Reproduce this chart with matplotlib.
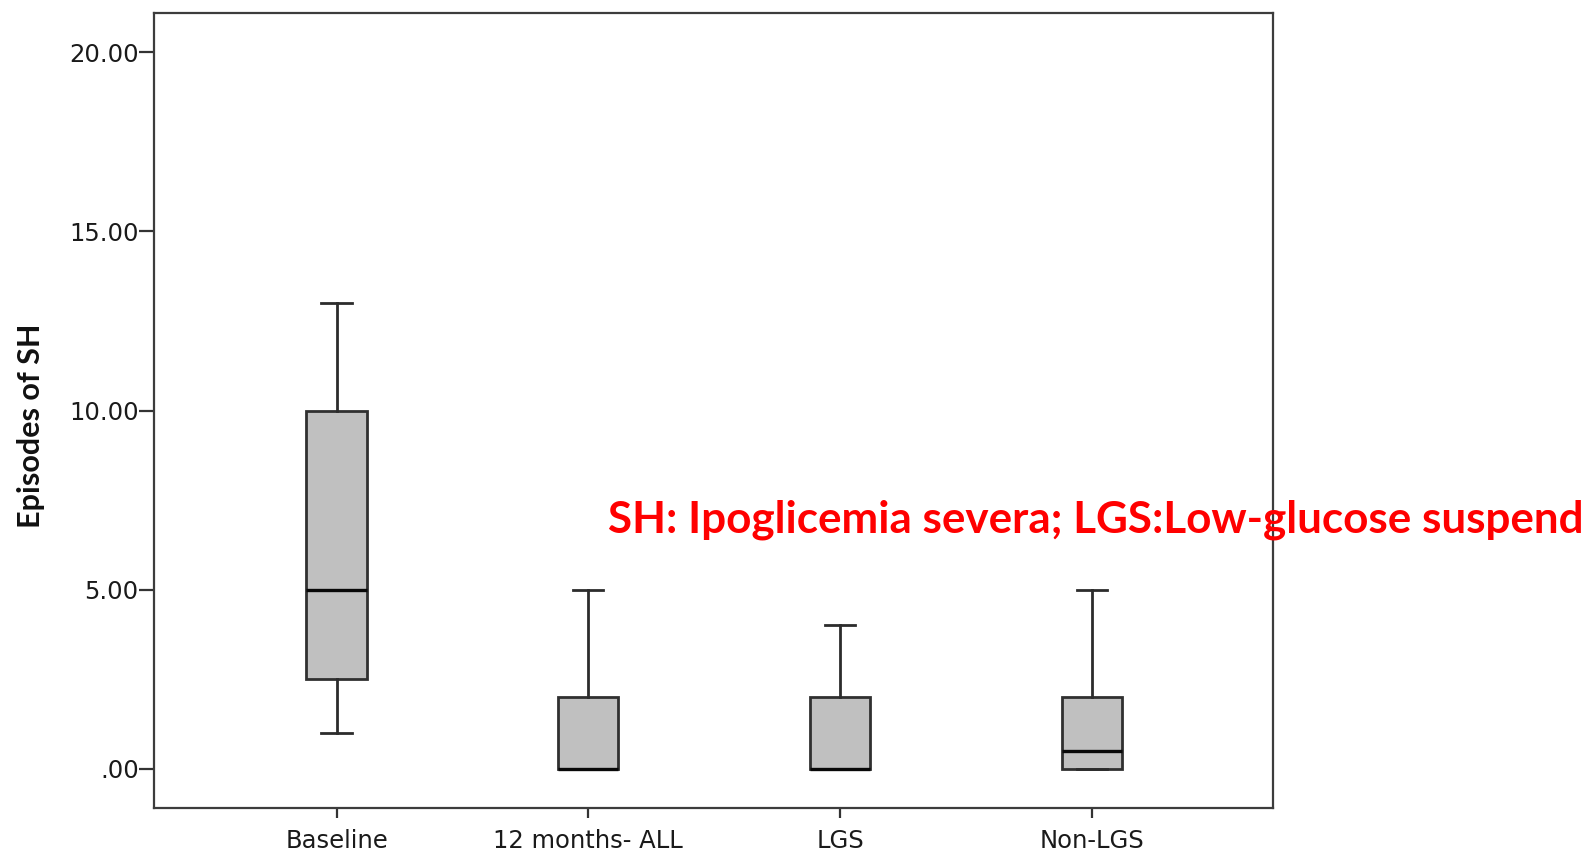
import matplotlib
matplotlib.use("Agg")
import matplotlib.pyplot as plt

# Summary statistics of SH episodes per group
groups = ["Baseline", "12 months- ALL", "LGS", "Non-LGS"]
whisker_low = [1.0, 0.0, 0.0, 0.0]
q1 = [2.5, 0.0, 0.0, 0.0]
median = [5.0, 0.0, 0.0, 0.5]
q3 = [10.0, 2.0, 2.0, 2.0]
whisker_high = [13.0, 5.0, 4.0, 5.0]

y_ticks = [0, 5, 10, 15, 20]
y_tick_labels = [".00", "5.00", "10.00", "15.00", "20.00"]

LABEL_FONT = ["Lato", "DejaVu Sans"]

W, H, DPI = 1589, 851, 100
fig = plt.figure(figsize=(W / DPI, H / DPI), dpi=DPI, facecolor="white")
ax = fig.add_axes([154 / W, 1 - 808 / H, (1273 - 154) / W, (808 - 13) / H])

stats = [
    dict(label=g, whislo=lo, q1=a, med=m, q3=b, whishi=hi, fliers=[])
    for g, lo, a, m, b, hi in zip(groups, whisker_low, q1, median, q3, whisker_high)
]
positions = list(range(len(groups)))
ax.bxp(
    stats,
    positions=positions,
    widths=0.24,
    capwidths=0.12,
    patch_artist=True,
    showfliers=False,
    boxprops=dict(facecolor="#c0c0c0", edgecolor="#303030", linewidth=2.0),
    medianprops=dict(color="#080808", linewidth=2.4),
    whiskerprops=dict(color="#2c2c2c", linewidth=2.0),
    capprops=dict(color="#2c2c2c", linewidth=2.0),
)

ax.set_xlim(-0.725, 3.72)
ax.set_ylim(-1.1, 21.1)
ax.set_yticks(y_ticks)
ax.set_yticklabels(y_tick_labels)
ax.set_xticks(positions)
ax.set_xticklabels(groups)

for s in ax.spines.values():
    s.set_color("#3c3c3c")
    s.set_linewidth(1.6)

ax.tick_params(axis="y", direction="out", length=11, width=1.6, color="#333333",
               pad=0, labelsize=17.5, labelcolor="#1a1a1a")
ax.tick_params(axis="x", direction="out", length=7, width=1.6, color="#333333",
               pad=8, labelsize=17.5, labelcolor="#1a1a1a")

ax.set_ylabel("Episodes of SH", fontsize=22, fontweight="bold",
              family=LABEL_FONT, color="#111111")
ax.yaxis.set_label_coords(45 / W, 0.5, transform=fig.transFigure)

# Annotation, scaled to span the available width on the right
note = fig.text(608 / W, 1 - 520 / H,
                "SH: Ipoglicemia severa; LGS:Low-glucose suspend",
                color="#ff0000", fontsize=30, fontweight="bold",
                family=LABEL_FONT, ha="left", va="center")
fig.canvas.draw()
width_px = note.get_window_extent().width
note.set_fontsize(30 * 975 / width_px)

fig.savefig("out.png", dpi=DPI, facecolor="white")
